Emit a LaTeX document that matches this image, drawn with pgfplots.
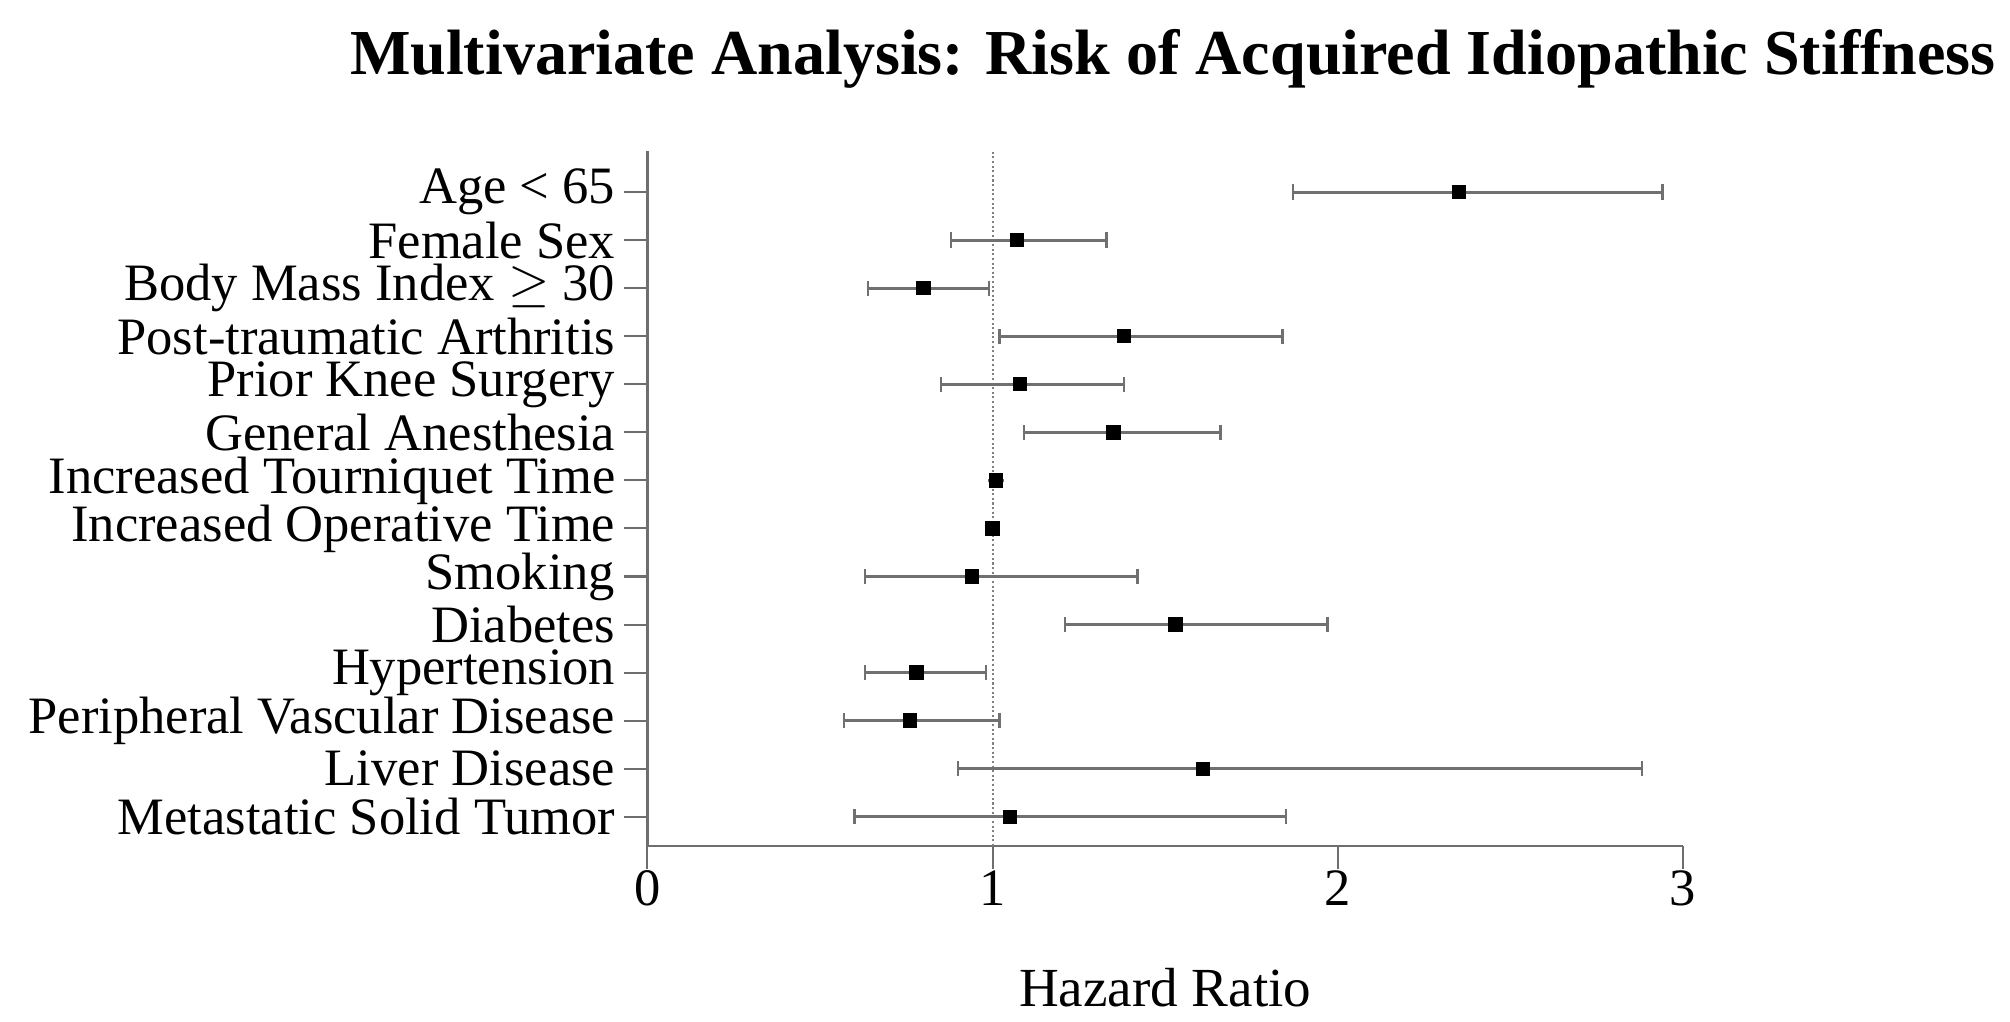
\documentclass[border=0pt]{standalone}
\usepackage{fontspec}
\setmainfont{Liberation Serif}
\usepackage{pgfplots}
\pgfplotsset{compat=1.18}
\usepackage{pgfplotstable}
\definecolor{axgray}{HTML}{6E6E6E}
\definecolor{ebgray}{HTML}{707070}
\pgfplotstableread{
row hr ep em
14 2.35 0.59 0.48
13 1.07 0.26 0.19
12 0.80 0.19 0.16
11 1.38 0.46 0.36
10 1.08 0.30 0.23
9 1.35 0.31 0.26
8 1.01 0.00 0.00
7 1.00 0.00 0.00
6 0.94 0.48 0.31
5 1.53 0.44 0.32
4 0.78 0.20 0.15
3 0.76 0.26 0.19
2 1.61 1.27 0.71
1 1.05 0.80 0.45
}\hrdata
\begin{document}
\begin{tikzpicture}
\begin{axis}[
  at={(0,0)}, anchor=south west,
  scale only axis, width=404pt, height=271pt,
  xmin=0, xmax=3, ymin=0.39, ymax=14.85,
  axis x line*=bottom, axis y line*=left,
  axis line style={draw=axgray, line width=1pt, -},
  xtick={0,1,2,3},
  ytick={1,...,14},
  yticklabels={Metastatic Solid Tumor, Liver Disease, Peripheral Vascular Disease, Hypertension, Diabetes, Smoking, Increased Operative Time, Increased Tourniquet Time, General Anesthesia, Prior Knee Surgery, Post-traumatic Arthritis, Body Mass Index \(\geq\) 30, Female Sex, Age < 65},
  tick align=outside, major tick length=9pt,
  tick style={draw=axgray, line width=0.8pt},
  ticklabel style={font=\fontsize{20.5}{22}\selectfont},
  /pgf/number format/assume math mode=true,
  xticklabel style={yshift=3pt},
  clip=false,
]
\addplot[densely dotted, color=gray, line width=0.8pt] coordinates {(1,0.39) (1,14.85)};
\addplot[only marks, mark=none, draw=ebgray, line width=1.1pt,
  error bars/.cd, x dir=both, x explicit, error mark=|,
  error bar style={draw=ebgray, line width=1.1pt},
  error mark options={draw=ebgray, mark size=3pt, line width=0.9pt}]
  table[x=hr, y=row, x error plus=ep, x error minus=em] {\hrdata};
\addplot[only marks, mark=square*, mark size=2.6pt, color=black]
  table[x=hr, y=row] {\hrdata};
\end{axis}
\node[anchor=base, font=\fontsize{25}{28}\selectfont\bfseries] at (205pt,301pt) {Multivariate Analysis: Risk of Acquired Idiopathic Stiffness};
\node[anchor=base, font=\fontsize{21.5}{24}\selectfont] at (202pt,-62.5pt) {Hazard Ratio};
\pgfresetboundingbox
\useasboundingbox (-252.5pt,-68.5pt) rectangle (531.5pt,330pt);
\end{tikzpicture}
\end{document}
